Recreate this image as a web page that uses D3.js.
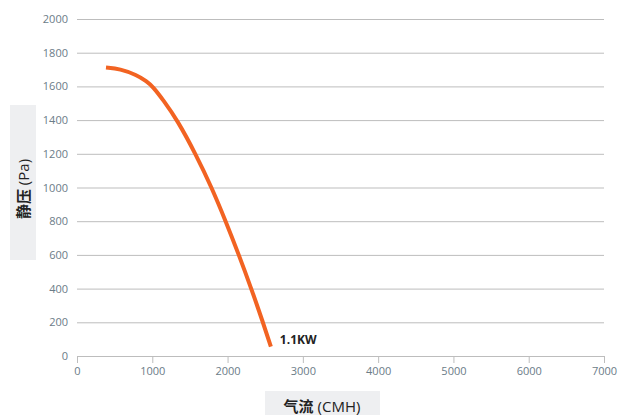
<!DOCTYPE html>
<html>
<head>
<meta charset="utf-8">
<script src="https://cdn.jsdelivr.net/npm/d3@7"></script>
<style>
  body { margin: 0; background: #fff; }
  svg { display: block; font-family: "Open Sans", "Noto Sans CJK SC", sans-serif; }
</style>
</head>
<body>
<div id="chart"></div>
<script>
// Fan curve data
const airflow = [385, 571, 793, 926, 1005, 1146, 1332, 1575, 1789, 1975, 2150, 2315, 2470, 2575];
const pressure = [1712, 1704, 1668, 1630, 1600, 1519, 1400, 1200, 1000, 800, 600, 400, 200, 55];
const xTicks = [0, 1000, 2000, 3000, 4000, 5000, 6000, 7000];
const yTicks = [0, 200, 400, 600, 800, 1000, 1200, 1400, 1600, 1800, 2000];
const seriesName = '1.1KW';

const W = 618, H = 415;
const margin = { top: 19, right: 14, bottom: 59, left: 77 };
const width = W - margin.left - margin.right;
const height = H - margin.top - margin.bottom;

const svg = d3.select('#chart').append('svg')
  .attr('width', W)
  .attr('height', H);

const g = svg.append('g')
  .attr('transform', `translate(${margin.left}, ${margin.top})`);

const x = d3.scaleLinear().domain([0, 7000]).range([0, width]);
const y = d3.scaleLinear().domain([0, 2000]).range([height, 0]);

// Horizontal gridlines with labels
const yAxis = d3.axisLeft(y)
  .tickValues(yTicks)
  .tickSize(-width)
  .tickPadding(9)
  .tickFormat(d => d);

const yg = g.append('g').call(yAxis)
  .attr('font-family', null)
  .attr('font-size', null);
yg.select('.domain').remove();
yg.selectAll('.tick line').attr('stroke', '#bdbdbd').attr('stroke-width', 1);
yg.selectAll('.tick text')
  .attr('fill', '#6b7c88')
  .style('font-size', '11px');

// Bottom axis
const xAxis = d3.axisBottom(x)
  .tickValues(xTicks)
  .tickSize(7)
  .tickSizeOuter(0)
  .tickPadding(4)
  .tickFormat(d => d);

const xg = g.append('g')
  .attr('transform', `translate(0, ${height})`)
  .call(xAxis)
  .attr('font-family', null)
  .attr('font-size', null);
xg.select('.domain').attr('stroke', '#bdbdbd');
xg.selectAll('.tick line').attr('stroke', '#bdbdbd');
xg.selectAll('.tick text')
  .attr('fill', '#6b7c88')
  .style('font-size', '11px');

// Curve (basis spline smooths out reading noise)
const points = airflow.map((a, i) => [a, pressure[i]]);
const line = d3.line()
  .x(d => x(d[0]))
  .y(d => y(d[1]))
  .curve(d3.curveBasis);

g.append('path')
  .datum(points)
  .attr('fill', 'none')
  .attr('stroke', '#f26322')
  .attr('stroke-width', 4)
  .attr('d', line);

const last = points[points.length - 1];
g.append('text')
  .attr('x', x(last[0]) + 9)
  .attr('y', y(last[1]) - 3)
  .attr('font-weight', 'bold')
  .attr('fill', '#222')
  .style('font-size', '12px')
  .text(seriesName);

// Y axis title
svg.append('rect')
  .attr('x', 10).attr('y', 105)
  .attr('width', 26).attr('height', 155)
  .attr('fill', '#eeeff1');

const yTitle = svg.append('text')
  .attr('transform', 'translate(29, 189) rotate(-90)')
  .attr('text-anchor', 'middle')
  .attr('fill', '#222')
  .style('font-size', '15px');
yTitle.append('tspan')
  .attr('font-family', '"Noto Sans CJK SC"')
  .attr('font-weight', 'bold')
  .text('静压');
yTitle.append('tspan').text(' (Pa)');

// X axis title
svg.append('rect')
  .attr('x', 265).attr('y', 391)
  .attr('width', 115).attr('height', 24)
  .attr('fill', '#eeeff1');

const xTitle = svg.append('text')
  .attr('x', 322).attr('y', 412)
  .attr('text-anchor', 'middle')
  .attr('fill', '#222')
  .style('font-size', '15px');
xTitle.append('tspan')
  .attr('font-family', '"Noto Sans CJK SC"')
  .attr('font-weight', 'bold')
  .text('气流');
xTitle.append('tspan').text(' (CMH)');
</script>
</body>
</html>
